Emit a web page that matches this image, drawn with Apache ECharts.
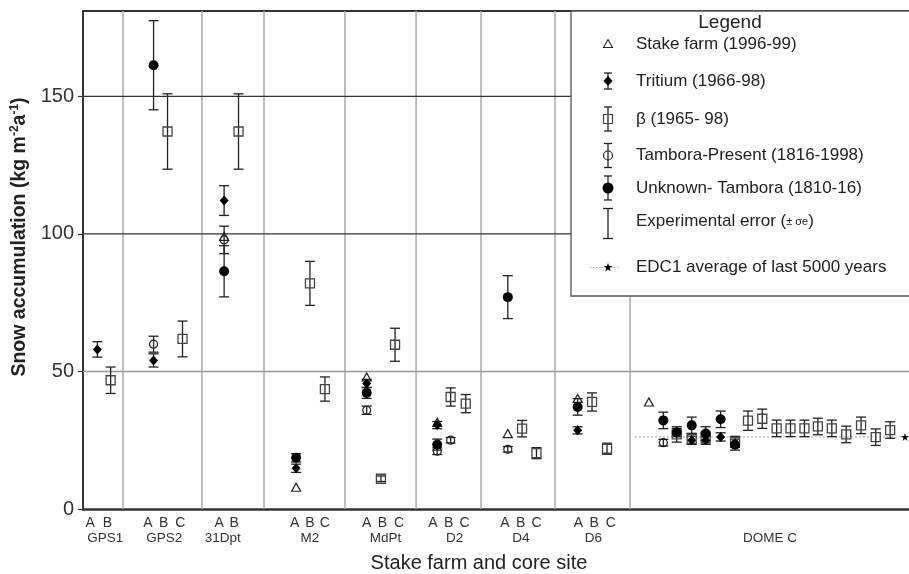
<!DOCTYPE html>
<html>
<head>
<meta charset="utf-8">
<script src="https://cdn.jsdelivr.net/npm/echarts@6/dist/echarts.min.js"></script>
<style>
html,body{margin:0;padding:0;background:#fff;}
#main{width:909px;height:574px;}
</style>
</head>
<body>
<div id="main"></div>
<script>
// ---------------- data ----------------
const yTicks = [0, 50, 100, 150];
const hLines = [50, 100, 150];

const letterLabels = ['A','B', 'A','B','C', 'A','B', 'A','B','C', 'A','B','C', 'A','B','C', 'A','B','C', 'A','B','C'];
const letterPos    = [0.5,1.7, 4.5,5.6,6.75, 9.45,10.5, 14.7,15.75,16.8, 19.7,20.8,21.95, 24.3,25.4,26.5, 29.3,30.4,31.5, 34.4,35.5,36.65];

const siteNames = ['GPS1','GPS2','31Dpt','M2','MdPt','D2','D4','D6','DOME C'];
const sitePos   = [1.55, 5.65, 9.7, 15.75, 21.0, 25.8, 30.4, 35.45, 47.7];

const separators = [2.78, 8.26, 12.57, 18.19, 23.13, 27.64, 32.78, 37.99];

// [x slot, value]
const stakeFarm = [[9.8, 99.1], [14.8, 7.9], [19.7, 48.0], [24.6, 31.5], [29.5, 27.4], [34.35, 40.2], [39.3, 38.9]];

// [x slot, value, error]
const tritium = [[1.0, 58.0, 2.8], [4.9, 54.0, 2.4], [9.8, 112.1, 5.4], [14.8, 14.8, 1.5], [19.7, 45.6, 1.5],
  [24.6, 30.5, 1.3], [34.35, 28.6, 1.3], [42.27, 25.0, 1.5], [43.24, 25.0, 1.5], [44.28, 26.2, 1.5]];

const beta = [[1.92, 46.8, 4.8], [5.87, 137.2, 13.7], [6.91, 61.8, 6.5], [10.8, 137.2, 13.7], [15.76, 82.0, 8.0],
  [16.8, 43.6, 4.4], [20.69, 11.0, 1.0], [21.67, 59.7, 6.0], [25.53, 40.7, 3.3], [26.58, 38.3, 3.3],
  [30.49, 29.2, 3.0], [31.49, 20.3, 2.0], [35.35, 38.9, 3.3], [36.39, 21.9, 2.0],
  [41.23, 27.1, 2.8], [42.27, 25.5, 2.0], [43.24, 26.0, 2.0], [45.28, 24.4, 2.0],
  [46.18, 32.1, 3.5], [47.17, 32.8, 3.5], [48.17, 29.3, 3.0], [49.13, 29.3, 3.0], [50.1, 29.3, 3.0],
  [51.03, 30.0, 3.0], [52.0, 29.3, 3.0], [53.0, 27.1, 3.0], [54.03, 30.4, 3.0], [55.05, 26.1, 3.0], [56.05, 28.7, 3.0]];

const tamboraPresent = [[4.9, 59.9, 2.9], [9.8, 97.8, 5.0], [19.7, 35.9, 1.5], [24.6, 21.0, 1.2],
  [25.53, 25.0, 1.0], [29.5, 21.7, 1.0], [40.3, 24.1, 1.2]];

const unknownTambora = [[4.9, 161.3, 16.2], [9.8, 86.4, 9.3], [14.8, 18.6, 1.5], [19.7, 42.2, 2.0], [24.6, 23.4, 2.0],
  [29.5, 77.0, 7.8], [34.35, 37.1, 3.0], [40.3, 32.2, 3.0], [41.23, 27.8, 1.5], [42.27, 30.4, 3.0],
  [43.24, 27.4, 2.5], [44.28, 32.6, 3.0], [45.28, 23.4, 2.0]];

const edc1Value = 26.2;
const edc1Span = [38.33, 57.08];

// ---------------- chart ----------------
const FONT = '"Liberation Sans", Arial, Helvetica, sans-serif';
const X_MIN = 0, X_MAX = 57.36, Y_MIN = 0, Y_MAX = 181;
const STAR = 'path://M50,0 L61,35 L98,35 L68,57 L79,91 L50,70 L21,91 L32,57 L2,35 L39,35 Z';

function nearestLabel(v, pos, labels) {
  let bi = 0, bd = Infinity;
  pos.forEach((p, i) => { const d = Math.abs(p - v); if (d < bd) { bd = d; bi = i; } });
  return labels[bi];
}

const errorData = [].concat(tritium, beta, tamboraPresent, unknownTambora);
const edc1Data = [
  {value: [edc1Span[0], edc1Value], symbol: 'none'},
  {value: [edc1Span[1], edc1Value], symbol: STAR, symbolSize: 8}
];

// legend (layout only)
const LX = 608, TX = 636;
const rows = [44, 81, 119, 155.5, 188, 223.5, 267.5];
const lineStyle = {stroke: '#222', lineWidth: 1.3};
function bar(y, half, cap) {
  return [
    {type: 'line', shape: {x1: LX, y1: y - half, x2: LX, y2: y + half}, style: lineStyle},
    {type: 'line', shape: {x1: LX - cap, y1: y - half, x2: LX + cap, y2: y - half}, style: lineStyle},
    {type: 'line', shape: {x1: LX - cap, y1: y + half, x2: LX + cap, y2: y + half}, style: lineStyle}
  ];
}
function txt(y, text, rich) {
  return {type: 'text', x: TX, y: y, style: {text: text, fill: '#222', fontSize: 17, fontFamily: FONT,
    verticalAlign: 'middle', align: 'left', rich: rich}};
}
function starPts(cx, cy, R, r) {
  const pts = [];
  for (let i = 0; i < 10; i++) {
    const a = -Math.PI / 2 + i * Math.PI / 5;
    const rr = i % 2 === 0 ? R : r;
    pts.push([cx + rr * Math.cos(a), cy + rr * Math.sin(a)]);
  }
  return pts;
}
const legendEls = [
  {type: 'rect', shape: {x: 571, y: 11, width: 345, height: 285}, style: {fill: '#fff', stroke: '#555', lineWidth: 1.3}},
  {type: 'text', x: 730, y: 23, style: {text: 'Legend', fill: '#222', fontSize: 19, fontFamily: FONT, align: 'center', verticalAlign: 'middle'}},
  {type: 'polygon', shape: {points: [[LX, rows[0] - 4.5], [LX + 4.5, rows[0] + 3.5], [LX - 4.5, rows[0] + 3.5]]}, style: {fill: 'none', stroke: '#222', lineWidth: 1.1}},
  txt(rows[0], 'Stake farm (1996-99)'),
  ...bar(rows[1], 8, 4),
  {type: 'polygon', shape: {points: [[LX, rows[1] - 5], [LX + 4.5, rows[1]], [LX, rows[1] + 5], [LX - 4.5, rows[1]]]}, style: {fill: '#000'}},
  txt(rows[1], 'Tritium (1966-98)'),
  ...bar(rows[2], 12, 4),
  {type: 'rect', shape: {x: LX - 4.5, y: rows[2] - 4.5, width: 9, height: 9}, style: {fill: 'none', stroke: '#444', lineWidth: 1.2}},
  txt(rows[2], 'β (1965- 98)'),
  ...bar(rows[3], 12, 4),
  {type: 'circle', shape: {cx: LX, cy: rows[3], r: 4.5}, style: {fill: 'none', stroke: '#222', lineWidth: 1.2}},
  txt(rows[3], 'Tambora-Present (1816-1998)'),
  ...bar(rows[4], 12, 4),
  {type: 'circle', shape: {cx: LX, cy: rows[4], r: 5.5}, style: {fill: '#000'}},
  txt(rows[4], 'Unknown- Tambora (1810-16)'),
  ...bar(rows[5], 15, 5),
  txt(rows[5] - 2, 'Experimental error ({s|± σe})', {s: {fontSize: 11, fontFamily: FONT, fill: '#222'}}),
  {type: 'line', shape: {x1: LX - 18, y1: rows[6], x2: LX + 12, y2: rows[6]}, style: {stroke: '#aaa', lineWidth: 1.2, lineDash: [1.5, 1.5]}},
  {type: 'polygon', shape: {points: starPts(LX, rows[6], 4.5, 1.9)}, style: {fill: '#000'}},
  txt(rows[6], 'EDC1 average of last 5000 years')
].map(e => Object.assign({z: 100}, e));

const option = {
  animation: false,
  backgroundColor: '#fff',
  grid: {left: 83, right: 0, top: 11, bottom: 65, containLabel: false, outerBoundsMode: 'none'},
  xAxis: [
    {
      type: 'value', min: X_MIN, max: X_MAX, position: 'bottom',
      axisLine: {show: true, onZero: false, lineStyle: {color: '#333', width: 2.5}},
      axisTick: {show: false}, splitLine: {show: false},
      axisLabel: {customValues: letterPos, formatter: v => nearestLabel(v, letterPos, letterLabels),
        fontSize: 14, color: '#333', margin: 7, fontFamily: FONT},
      name: 'Stake farm and core site', nameLocation: 'middle', nameGap: 44,
      nameTextStyle: {fontSize: 20, color: '#222', fontFamily: FONT, padding: [0, 34, 0, 0]}
    },
    {
      type: 'value', min: X_MIN, max: X_MAX, position: 'bottom',
      axisLine: {show: false, onZero: false}, axisTick: {show: false}, splitLine: {show: false},
      axisLabel: {customValues: sitePos, formatter: v => nearestLabel(v, sitePos, siteNames),
        fontSize: 13.5, color: '#333', margin: 22, fontFamily: FONT}
    },
    {
      type: 'value', min: X_MIN, max: X_MAX, position: 'top',
      axisLine: {show: true, onZero: false, lineStyle: {color: '#333', width: 2}},
      axisTick: {show: false}, axisLabel: {show: false}, splitLine: {show: false}
    }
  ],
  yAxis: {
    type: 'value', min: Y_MIN, max: Y_MAX, interval: 50,
    axisLine: {show: true, lineStyle: {color: '#333', width: 2}},
    axisTick: {show: true, customValues: yTicks, length: 5, lineStyle: {color: '#333', width: 1.2}},
    axisLabel: {customValues: yTicks, fontSize: 20, color: '#333', margin: 9, fontFamily: FONT},
    splitLine: {show: false},
    name: 'Snow accumulation (kg m{sup|-2}a{sup|-1})',
    nameLocation: 'middle', nameGap: 46,
    nameTextStyle: {fontSize: 19.5, fontWeight: 'bold', color: '#222', fontFamily: FONT, padding: [0, 0, 0, 46],
      rich: {sup: {fontSize: 12, fontWeight: 'bold', fontFamily: FONT, color: '#222', verticalAlign: 'top', lineHeight: 22}}}
  },
  graphic: legendEls,
  series: [
    {
      name: 'separators', type: 'custom', z: 1, silent: true,
      data: separators.map(v => [v]),
      renderItem: (params, api) => {
        const a = api.coord([api.value(0), Y_MAX]);
        const b = api.coord([api.value(0), Y_MIN]);
        return {type: 'line', shape: {x1: a[0], y1: a[1], x2: b[0], y2: b[1]}, style: {stroke: '#aaa', lineWidth: 1.5}};
      }
    },
    {
      name: 'hlines', type: 'custom', z: 1, silent: true,
      data: hLines.map(v => [v]),
      renderItem: (params, api) => {
        const v = api.value(0);
        const a = api.coord([X_MIN, v]);
        const b = api.coord([X_MAX, v]);
        return {type: 'line', shape: {x1: a[0], y1: a[1], x2: b[0], y2: b[1]},
          style: {stroke: v === 50 ? '#999' : '#333', lineWidth: v === 50 ? 1.6 : 1.3}};
      }
    },
    {
      name: 'EDC1 average of last 5000 years', type: 'line', z: 2, data: edc1Data,
      lineStyle: {color: '#bbb', width: 1.3, type: [2, 2]}, itemStyle: {color: '#000', opacity: 1}, showSymbol: true
    },
    {
      name: 'Experimental error (±σe)', type: 'custom', z: 3,
      data: errorData,
      renderItem: (params, api) => {
        const x = api.value(0), v = api.value(1), e = api.value(2);
        const t = api.coord([x, v + e]);
        const b = api.coord([x, v - e]);
        const c = 5;
        const st = {stroke: '#222', lineWidth: 1.3};
        return {type: 'group', children: [
          {type: 'line', shape: {x1: t[0], y1: t[1], x2: b[0], y2: b[1]}, style: st},
          {type: 'line', shape: {x1: t[0] - c, y1: t[1], x2: t[0] + c, y2: t[1]}, style: st},
          {type: 'line', shape: {x1: b[0] - c, y1: b[1], x2: b[0] + c, y2: b[1]}, style: st}
        ]};
      }
    },
    {name: 'Stake farm (1996-99)', type: 'scatter', z: 4, data: stakeFarm, symbol: 'triangle', symbolSize: [9, 8],
      itemStyle: {color: 'rgba(0,0,0,0)', borderColor: '#222', borderWidth: 1.2, opacity: 1}},
    {name: 'β (1965- 98)', type: 'scatter', z: 4, data: beta, symbol: 'rect', symbolSize: 9,
      itemStyle: {color: 'rgba(0,0,0,0)', borderColor: '#444', borderWidth: 1.3, opacity: 1}},
    {name: 'Tambora-Present (1816-1998)', type: 'scatter', z: 4, data: tamboraPresent, symbol: 'circle', symbolSize: 8,
      itemStyle: {color: 'rgba(0,0,0,0)', borderColor: '#222', borderWidth: 1.2, opacity: 1}},
    {name: 'Tritium (1966-98)', type: 'scatter', z: 5, data: tritium, symbol: 'diamond', symbolSize: [9, 10],
      itemStyle: {color: '#000', opacity: 1}},
    {name: 'Unknown- Tambora (1810-16)', type: 'scatter', z: 5, data: unknownTambora, symbol: 'circle', symbolSize: 10,
      itemStyle: {color: '#000', opacity: 1}}
  ]
};

const chart = echarts.init(document.getElementById('main'));
chart.setOption(option);
</script>
</body>
</html>
